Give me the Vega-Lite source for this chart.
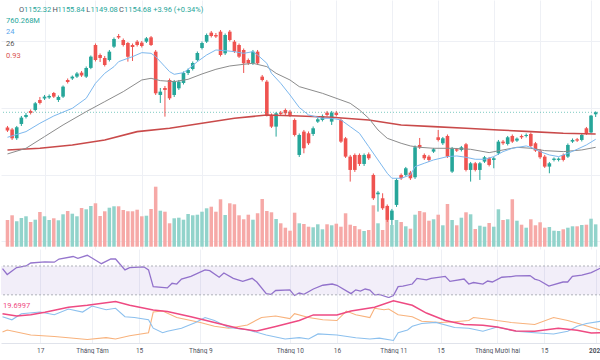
{
  "$schema": "https://vega.github.io/schema/vega-lite/v6.json",
  "padding": 0,
  "spacing": 0,
  "bounds": "flush",
  "background": "white",
  "config": {
    "view": {"stroke": null},
    "font": "Roboto",
    "axis": {"gridColor": "#eef0f5", "gridWidth": 1}
  },
  "datasets": {
    "candles": [
      {"i":0,"o":1136.3,"h":1138.3,"l":1131.1,"c":1132.9,"v":908},
      {"i":1,"o":1134.1,"h":1135.9,"l":1121.5,"c":1123.5,"v":1068},
      {"i":2,"o":1123.5,"h":1138.3,"l":1121.5,"c":1136.7,"v":864},
      {"i":3,"o":1140.7,"h":1150.3,"l":1138.3,"c":1148.3,"v":976},
      {"i":4,"o":1149.1,"h":1153.9,"l":1147.3,"c":1151.5,"v":1034},
      {"i":5,"o":1156.3,"h":1158.1,"l":1152.1,"c":1153.9,"v":840},
      {"i":6,"o":1157.5,"h":1167.1,"l":1155.7,"c":1165.5,"v":918},
      {"i":7,"o":1169.5,"h":1173.1,"l":1164.1,"c":1165.9,"v":1180},
      {"i":8,"o":1171.3,"h":1175.5,"l":1169.5,"c":1173.5,"v":1034},
      {"i":9,"o":1172.5,"h":1176.1,"l":1170.7,"c":1174.3,"v":908},
      {"i":10,"o":1177.9,"h":1179.1,"l":1171.9,"c":1173.5,"v":966},
      {"i":11,"o":1169.5,"h":1174.9,"l":1167.1,"c":1173.1,"v":898},
      {"i":12,"o":1173.5,"h":1186.9,"l":1171.9,"c":1185.5,"v":1102},
      {"i":13,"o":1193.5,"h":1195.3,"l":1189.3,"c":1191.1,"v":1214},
      {"i":14,"o":1195.3,"h":1198.9,"l":1193.5,"c":1197.5,"v":1122},
      {"i":15,"o":1197.5,"h":1203.1,"l":1195.9,"c":1201.3,"v":1034},
      {"i":16,"o":1202.3,"h":1204.3,"l":1197.1,"c":1198.9,"v":1316},
      {"i":17,"o":1197.5,"h":1209.7,"l":1195.9,"c":1207.9,"v":1272},
      {"i":18,"o":1208.0,"h":1222.9,"l":1206.5,"c":1221.5,"v":1384},
      {"i":19,"o":1235.5,"h":1237.3,"l":1215.7,"c":1217.5,"v":1476},
      {"i":20,"o":1223.5,"h":1225.3,"l":1215.1,"c":1219.9,"v":1044},
      {"i":21,"o":1219.9,"h":1222.3,"l":1209.7,"c":1211.5,"v":1204},
      {"i":22,"o":1217.5,"h":1229.5,"l":1215.7,"c":1227.5,"v":1326},
      {"i":23,"o":1233.5,"h":1244.5,"l":1231.9,"c":1242.7,"v":1374},
      {"i":24,"o":1246.3,"h":1248.7,"l":1242.7,"c":1244.5,"v":1374},
      {"i":25,"o":1241.5,"h":1243.3,"l":1233.7,"c":1235.5,"v":1248},
      {"i":26,"o":1237.9,"h":1239.1,"l":1215.5,"c":1221.5,"v":1204},
      {"i":27,"o":1235.5,"h":1237.3,"l":1216.3,"c":1233.1,"v":1204},
      {"i":28,"o":1239.5,"h":1241.5,"l":1233.7,"c":1235.5,"v":1258},
      {"i":29,"o":1238.3,"h":1240.3,"l":1232.5,"c":1234.3,"v":1034},
      {"i":30,"o":1239.5,"h":1245.1,"l":1237.9,"c":1243.5,"v":1054},
      {"i":31,"o":1244.7,"h":1246.3,"l":1234.3,"c":1235.5,"v":1282},
      {"i":32,"o":1227.5,"h":1229.5,"l":1175.5,"c":1177.5,"v":2040},
      {"i":33,"o":1175.5,"h":1183.9,"l":1165.9,"c":1179.5,"v":1224},
      {"i":34,"o":1183.9,"h":1186.3,"l":1149.5,"c":1181.5,"v":1190},
      {"i":35,"o":1193.5,"h":1195.3,"l":1169.5,"c":1171.5,"v":796},
      {"i":36,"o":1175.5,"h":1193.5,"l":1173.1,"c":1191.5,"v":966},
      {"i":37,"o":1183.5,"h":1193.5,"l":1181.5,"c":1191.5,"v":986},
      {"i":38,"o":1189.9,"h":1203.7,"l":1188.1,"c":1201.9,"v":918},
      {"i":39,"o":1201.9,"h":1207.3,"l":1199.5,"c":1205.5,"v":1112},
      {"i":40,"o":1206.7,"h":1215.7,"l":1204.9,"c":1213.9,"v":1068},
      {"i":41,"o":1217.5,"h":1227.7,"l":1215.7,"c":1225.9,"v":1088},
      {"i":42,"o":1231.9,"h":1239.7,"l":1230.1,"c":1237.9,"v":1190},
      {"i":43,"o":1239.5,"h":1249.3,"l":1237.9,"c":1247.5,"v":1306},
      {"i":44,"o":1250.3,"h":1252.3,"l":1244.5,"c":1246.3,"v":1360},
      {"i":45,"o":1247.5,"h":1249.9,"l":1243.9,"c":1245.7,"v":1190},
      {"i":46,"o":1251.5,"h":1253.5,"l":1221.7,"c":1223.5,"v":1612},
      {"i":47,"o":1225.5,"h":1249.3,"l":1223.5,"c":1247.5,"v":1078},
      {"i":48,"o":1251.5,"h":1253.5,"l":1239.7,"c":1241.5,"v":1476},
      {"i":49,"o":1239.5,"h":1241.5,"l":1225.9,"c":1227.5,"v":1442},
      {"i":50,"o":1235.5,"h":1237.3,"l":1219.9,"c":1221.5,"v":1068},
      {"i":51,"o":1229.5,"h":1231.3,"l":1201.9,"c":1213.5,"v":932},
      {"i":52,"o":1217.5,"h":1219.3,"l":1211.5,"c":1213.5,"v":1088},
      {"i":53,"o":1213.5,"h":1229.5,"l":1211.5,"c":1227.5,"v":918},
      {"i":54,"o":1227.5,"h":1229.5,"l":1211.5,"c":1213.5,"v":1136},
      {"i":55,"o":1197.5,"h":1199.5,"l":1191.7,"c":1193.5,"v":1622},
      {"i":56,"o":1191.5,"h":1193.5,"l":1149.7,"c":1151.5,"v":1214},
      {"i":57,"o":1151.5,"h":1153.3,"l":1135.9,"c":1137.5,"v":1170},
      {"i":58,"o":1137.5,"h":1155.1,"l":1125.5,"c":1153.5,"v":942},
      {"i":59,"o":1154.3,"h":1156.3,"l":1150.3,"c":1152.7,"v":796},
      {"i":60,"o":1157.5,"h":1159.3,"l":1151.5,"c":1153.5,"v":646},
      {"i":61,"o":1155.5,"h":1157.5,"l":1149.1,"c":1151.5,"v":544},
      {"i":62,"o":1145.5,"h":1147.3,"l":1125.7,"c":1127.5,"v":1156},
      {"i":63,"o":1103.5,"h":1129.3,"l":1101.1,"c":1127.5,"v":796},
      {"i":64,"o":1131.5,"h":1133.5,"l":1105.5,"c":1111.5,"v":772},
      {"i":65,"o":1129.5,"h":1131.7,"l":1115.5,"c":1117.5,"v":680},
      {"i":66,"o":1128.7,"h":1137.7,"l":1126.3,"c":1135.5,"v":660},
      {"i":67,"o":1143.5,"h":1147.9,"l":1141.9,"c":1146.3,"v":762},
      {"i":68,"o":1145.5,"h":1152.1,"l":1143.7,"c":1150.3,"v":592},
      {"i":69,"o":1154.3,"h":1156.3,"l":1149.7,"c":1151.5,"v":762},
      {"i":70,"o":1143.5,"h":1156.3,"l":1139.5,"c":1154.3,"v":728},
      {"i":71,"o":1154.3,"h":1156.3,"l":1149.7,"c":1151.5,"v":782},
      {"i":72,"o":1145.5,"h":1147.3,"l":1117.9,"c":1119.5,"v":680},
      {"i":73,"o":1123.5,"h":1125.1,"l":1099.9,"c":1101.5,"v":1136},
      {"i":74,"o":1101.5,"h":1103.5,"l":1071.5,"c":1085.5,"v":748},
      {"i":75,"o":1103.5,"h":1105.3,"l":1083.1,"c":1085.5,"v":704},
      {"i":76,"o":1103.5,"h":1105.3,"l":1090.3,"c":1092.7,"v":592},
      {"i":77,"o":1092.7,"h":1105.3,"l":1090.3,"c":1103.5,"v":534},
      {"i":78,"o":1104.3,"h":1106.5,"l":1097.5,"c":1099.5,"v":568},
      {"i":79,"o":1079.5,"h":1081.3,"l":1049.5,"c":1051.5,"v":1408},
      {"i":80,"o":1056.3,"h":1060.3,"l":1035.5,"c":1058.3,"v":796},
      {"i":81,"o":1051.5,"h":1057.5,"l":1037.5,"c":1039.5,"v":568},
      {"i":82,"o":1042.3,"h":1044.1,"l":1023.1,"c":1025.5,"v":908},
      {"i":83,"o":1025.5,"h":1038.7,"l":1019.5,"c":1036.7,"v":738},
      {"i":84,"o":1043.5,"h":1075.3,"l":1041.1,"c":1073.5,"v":908},
      {"i":85,"o":1079.5,"h":1081.3,"l":1073.5,"c":1075.5,"v":840},
      {"i":86,"o":1079.5,"h":1089.1,"l":1077.7,"c":1087.5,"v":694},
      {"i":87,"o":1082.3,"h":1084.3,"l":1073.5,"c":1075.5,"v":612},
      {"i":88,"o":1076.7,"h":1114.9,"l":1074.7,"c":1112.7,"v":1088},
      {"i":89,"o":1115.5,"h":1123.9,"l":1110.7,"c":1112.7,"v":1214},
      {"i":90,"o":1103.5,"h":1105.3,"l":1097.5,"c":1099.5,"v":1170},
      {"i":91,"o":1101.5,"h":1103.5,"l":1095.1,"c":1097.5,"v":884},
      {"i":92,"o":1107.5,"h":1111.9,"l":1105.9,"c":1110.3,"v":932},
      {"i":93,"o":1124.7,"h":1133.5,"l":1119.7,"c":1121.5,"v":1088},
      {"i":94,"o":1117.5,"h":1125.1,"l":1115.5,"c":1123.5,"v":728},
      {"i":95,"o":1126.3,"h":1128.1,"l":1099.9,"c":1101.5,"v":1452},
      {"i":96,"o":1083.5,"h":1113.1,"l":1081.9,"c":1111.5,"v":908},
      {"i":97,"o":1110.3,"h":1111.9,"l":1107.1,"c":1108.7,"v":728},
      {"i":98,"o":1109.5,"h":1114.3,"l":1107.7,"c":1112.7,"v":986},
      {"i":99,"o":1116.3,"h":1117.9,"l":1083.7,"c":1085.5,"v":1170},
      {"i":100,"o":1085.5,"h":1095.1,"l":1071.5,"c":1093.5,"v":1102},
      {"i":101,"o":1093.5,"h":1095.1,"l":1083.7,"c":1085.5,"v":602},
      {"i":102,"o":1085.5,"h":1095.1,"l":1073.5,"c":1093.5,"v":714},
      {"i":103,"o":1095.5,"h":1102.3,"l":1093.9,"c":1100.7,"v":680},
      {"i":104,"o":1099.5,"h":1101.1,"l":1089.7,"c":1091.5,"v":806},
      {"i":105,"o":1097.5,"h":1101.1,"l":1087.5,"c":1099.5,"v":680},
      {"i":106,"o":1105.5,"h":1121.5,"l":1103.5,"c":1119.5,"v":1272},
      {"i":107,"o":1119.5,"h":1121.5,"l":1115.5,"c":1117.5,"v":908},
      {"i":108,"o":1116.7,"h":1126.3,"l":1114.9,"c":1124.7,"v":932},
      {"i":109,"o":1126.3,"h":1128.1,"l":1117.9,"c":1119.5,"v":1612},
      {"i":110,"o":1120.7,"h":1124.5,"l":1119.1,"c":1123.1,"v":884},
      {"i":111,"o":1126.3,"h":1128.1,"l":1122.7,"c":1124.7,"v":748},
      {"i":112,"o":1126.3,"h":1129.3,"l":1124.5,"c":1127.5,"v":646},
      {"i":113,"o":1128.7,"h":1130.5,"l":1112.5,"c":1114.3,"v":932},
      {"i":114,"o":1117.5,"h":1119.1,"l":1107.1,"c":1108.7,"v":728},
      {"i":115,"o":1108.7,"h":1110.7,"l":1098.7,"c":1100.7,"v":830},
      {"i":116,"o":1101.5,"h":1103.5,"l":1087.9,"c":1089.5,"v":646},
      {"i":117,"o":1089.5,"h":1095.1,"l":1081.5,"c":1093.5,"v":670},
      {"i":118,"o":1097.5,"h":1100.5,"l":1095.7,"c":1099.1,"v":544},
      {"i":119,"o":1097.5,"h":1100.5,"l":1095.7,"c":1099.1,"v":534},
      {"i":120,"o":1103.5,"h":1105.3,"l":1095.7,"c":1097.5,"v":592},
      {"i":121,"o":1101.5,"h":1117.3,"l":1099.9,"c":1115.5,"v":646},
      {"i":122,"o":1119.5,"h":1123.3,"l":1117.9,"c":1121.5,"v":694},
      {"i":123,"o":1122.3,"h":1123.9,"l":1119.1,"c":1120.7,"v":694},
      {"i":124,"o":1121.5,"h":1129.3,"l":1119.7,"c":1127.5,"v":738},
      {"i":125,"o":1135.5,"h":1137.1,"l":1127.5,"c":1129.5,"v":748},
      {"i":126,"o":1130.5,"h":1151.5,"l":1129.5,"c":1150.7,"v":952},
      {"i":127,"o":1152.32,"h":1155.84,"l":1149.08,"c":1154.68,"v":760.268}
    ],
    "ma1": [
      {"i":0,"p":1124.7},{"i":4,"p":1131.5},{"i":7,"p":1141.5},{"i":10,"p":1150.3},{"i":14,"p":1159.5},{"i":17,"p":1171.5},{"i":19,"p":1189.5},{"i":21,"p":1201.5},{"i":23,"p":1209.5},{"i":24,"p":1215.5},{"i":27,"p":1221.5},{"i":29,"p":1226.3},{"i":31,"p":1225.5},{"i":32,"p":1221.5},{"i":34,"p":1209.5},{"i":35,"p":1203.5},{"i":36,"p":1200.3},{"i":38,"p":1202.3},{"i":39,"p":1206.3},{"i":41,"p":1215.5},{"i":43,"p":1223.5},{"i":45,"p":1229.5},{"i":47,"p":1228.7},{"i":49,"p":1227.5},{"i":51,"p":1225.5},{"i":53,"p":1227.5},{"i":54,"p":1223.5},{"i":56,"p":1213.5},{"i":57,"p":1201.5},{"i":59,"p":1189.5},{"i":61,"p":1175.5},{"i":63,"p":1160.5},{"i":65,"p":1151.5},{"i":68,"p":1147.5},{"i":70,"p":1147.5},{"i":72,"p":1145.5},{"i":74,"p":1137.5},{"i":76,"p":1129.5},{"i":78,"p":1113.5},{"i":80,"p":1097.5},{"i":82,"p":1081.5},{"i":83,"p":1075.5},{"i":85,"p":1075.5},{"i":87,"p":1079.5},{"i":88,"p":1089.5},{"i":90,"p":1093.5},{"i":92,"p":1097.5},{"i":95,"p":1101.5},{"i":97,"p":1102.3},{"i":99,"p":1100.7},{"i":101,"p":1098.3},{"i":103,"p":1098.3},{"i":105,"p":1101.5},{"i":107,"p":1107.5},{"i":109,"p":1111.5},{"i":112,"p":1114.3},{"i":113,"p":1112.7},{"i":115,"p":1107.5},{"i":117,"p":1103.5},{"i":119,"p":1101.5},{"i":121,"p":1105.5},{"i":123,"p":1110.3},{"i":125,"p":1115.5},{"i":127,"p":1122.3}
    ],
    "ma2": [
      {"i":0,"p":1104.7},{"i":4,"p":1111.5},{"i":8,"p":1125.5},{"i":12,"p":1139.5},{"i":17,"p":1155.5},{"i":21,"p":1167.5},{"i":25,"p":1179.5},{"i":29,"p":1193.5},{"i":31,"p":1195.5},{"i":33,"p":1192.7},{"i":36,"p":1191.5},{"i":39,"p":1194.3},{"i":42,"p":1200.7},{"i":45,"p":1206.3},{"i":48,"p":1210.3},{"i":51,"p":1212.3},{"i":53,"p":1213.5},{"i":56,"p":1209.5},{"i":58,"p":1201.5},{"i":61,"p":1193.5},{"i":63,"p":1185.5},{"i":68,"p":1177.5},{"i":72,"p":1169.5},{"i":74,"p":1165.5},{"i":76,"p":1157.5},{"i":78,"p":1147.5},{"i":80,"p":1133.5},{"i":82,"p":1123.5},{"i":85,"p":1117.5},{"i":87,"p":1114.3},{"i":89,"p":1112.7},{"i":92,"p":1111.5},{"i":96,"p":1111.5},{"i":100,"p":1110.3},{"i":104,"p":1106.3},{"i":107,"p":1109.5},{"i":110,"p":1112.7},{"i":113,"p":1111.5},{"i":116,"p":1108.7},{"i":120,"p":1107.5},{"i":124,"p":1109.5},{"i":127,"p":1112.7}
    ],
    "ma3": [
      {"i":0,"p":1109.5},{"i":7,"p":1111.5},{"i":14,"p":1115.5},{"i":21,"p":1121.5},{"i":28,"p":1131.5},{"i":35,"p":1135.5},{"i":42,"p":1141.5},{"i":49,"p":1147.5},{"i":56,"p":1151.5},{"i":63,"p":1150.3},{"i":70,"p":1148.7},{"i":78,"p":1145.5},{"i":85,"p":1139.5},{"i":92,"p":1137.5},{"i":99,"p":1135.5},{"i":106,"p":1133.5},{"i":113,"p":1131.5},{"i":120,"p":1129.5},{"i":127,"p":1128.7}
    ],
    "rsi": [
      {"i":0,"r":66.3},{"i":1,"r":58.2},{"i":3,"r":67.8},{"i":5,"r":70},{"i":6,"r":74.2},{"i":9,"r":75.8},{"i":11,"r":75.3},{"i":12,"r":79.7},{"i":15,"r":83.2},{"i":16,"r":80.6},{"i":18,"r":84.9},{"i":19,"r":81.1},{"i":21,"r":73.2},{"i":23,"r":79.7},{"i":24,"r":79.7},{"i":26,"r":64.6},{"i":27,"r":67.8},{"i":30,"r":68.9},{"i":31,"r":64.6},{"i":32,"r":41.3},{"i":35,"r":39.6},{"i":36,"r":46},{"i":37,"r":45},{"i":38,"r":51.9},{"i":40,"r":55.6},{"i":43,"r":64.6},{"i":44,"r":63.6},{"i":46,"r":54.4},{"i":47,"r":60.3},{"i":49,"r":52.9},{"i":51,"r":48.6},{"i":53,"r":52.9},{"i":54,"r":47.8},{"i":56,"r":31.7},{"i":57,"r":30.6},{"i":58,"r":36.0},{"i":61,"r":36.9},{"i":62,"r":29},{"i":63,"r":32.5},{"i":64,"r":30.6},{"i":66,"r":38.1},{"i":68,"r":43.3},{"i":70,"r":45},{"i":71,"r":43.3},{"i":74,"r":31.7},{"i":75,"r":36.9},{"i":76,"r":35.3},{"i":77,"r":38.1},{"i":78,"r":36.7},{"i":79,"r":30},{"i":80,"r":30.6},{"i":82,"r":26.3},{"i":83,"r":29},{"i":84,"r":41.3},{"i":85,"r":42.2},{"i":87,"r":45},{"i":88,"r":52.9},{"i":90,"r":50.8},{"i":91,"r":52.9},{"i":94,"r":55.6},{"i":95,"r":48.6},{"i":98,"r":51.9},{"i":99,"r":45},{"i":100,"r":47.1},{"i":102,"r":45},{"i":103,"r":49.2},{"i":104,"r":47.8},{"i":106,"r":54.4},{"i":108,"r":55.4},{"i":109,"r":56.4},{"i":112,"r":56.7},{"i":113,"r":51.9},{"i":114,"r":49.9},{"i":116,"r":42.2},{"i":119,"r":47.8},{"i":120,"r":47.8},{"i":121,"r":55.6},{"i":123,"r":57.2},{"i":125,"r":60.8},{"i":127,"r":67.2}
    ],
    "adx": [
      {"i":0,"d":35.0},{"i":3,"d":33.1},{"i":6,"d":34.1},{"i":9,"d":36.2},{"i":14,"d":40.2},{"i":18,"d":41.7},{"i":24,"d":44.7},{"i":27,"d":41.7},{"i":32,"d":38.0},{"i":35,"d":36.8},{"i":40,"d":32.5},{"i":45,"d":27.9},{"i":50,"d":23.3},{"i":54,"d":21.1},{"i":58,"d":24.8},{"i":63,"d":29.5},{"i":66,"d":34.0},{"i":71,"d":34.0},{"i":74,"d":37.1},{"i":79,"d":40.2},{"i":83,"d":45.4},{"i":87,"d":41.7},{"i":90,"d":35.5},{"i":94,"d":29.5},{"i":98,"d":26.4},{"i":102,"d":25.8},{"i":105,"d":24.3},{"i":109,"d":21.1},{"i":113,"d":20.9},{"i":118,"d":23.3},{"i":122,"d":21.8},{"i":125,"d":19.6},{"i":127,"d":19.7}
    ],
    "pdi": [
      {"i":0,"d":32.6},{"i":2,"d":30.1},{"i":4,"d":35.0},{"i":8,"d":36.3},{"i":11,"d":34.1},{"i":14,"d":38.7},{"i":17,"d":36.3},{"i":19,"d":41.1},{"i":22,"d":38.1},{"i":24,"d":39.3},{"i":26,"d":32.6},{"i":28,"d":32.0},{"i":31,"d":30.1},{"i":32,"d":23.4},{"i":34,"d":19.8},{"i":35,"d":21.0},{"i":38,"d":23.4},{"i":41,"d":28.0},{"i":43,"d":31.9},{"i":45,"d":29.5},{"i":48,"d":24.0},{"i":52,"d":22.2},{"i":56,"d":17.9},{"i":60,"d":14.8},{"i":63,"d":15.8},{"i":65,"d":14.8},{"i":67,"d":18.8},{"i":71,"d":17.9},{"i":75,"d":15.8},{"i":78,"d":14.8},{"i":80,"d":15.4},{"i":83,"d":13.6},{"i":84,"d":19.8},{"i":86,"d":21.9},{"i":87,"d":24.9},{"i":89,"d":27.1},{"i":92,"d":28.0},{"i":96,"d":24.0},{"i":99,"d":23.4},{"i":102,"d":21.0},{"i":105,"d":24.3},{"i":109,"d":21.0},{"i":113,"d":19.8},{"i":117,"d":18.8},{"i":120,"d":21.0},{"i":122,"d":24.9},{"i":124,"d":27.1},{"i":127,"d":28.9}
    ],
    "mdi": [
      {"i":0,"d":20.3},{"i":1,"d":21.9},{"i":6,"d":17.9},{"i":11,"d":16.7},{"i":14,"d":15.8},{"i":18,"d":14.3},{"i":22,"d":15.8},{"i":24,"d":14.8},{"i":27,"d":17.3},{"i":31,"d":19.8},{"i":32,"d":36.3},{"i":34,"d":37.1},{"i":37,"d":31.9},{"i":42,"d":28.0},{"i":45,"d":24.9},{"i":48,"d":23.4},{"i":52,"d":25.9},{"i":53,"d":28.0},{"i":55,"d":31.9},{"i":58,"d":33.1},{"i":61,"d":31.1},{"i":62,"d":35.0},{"i":65,"d":31.9},{"i":68,"d":30.1},{"i":71,"d":29.5},{"i":73,"d":37.1},{"i":75,"d":34.1},{"i":78,"d":31.9},{"i":79,"d":39.3},{"i":81,"d":38.1},{"i":82,"d":38.7},{"i":84,"d":34.1},{"i":87,"d":32.6},{"i":89,"d":28.9},{"i":93,"d":28.0},{"i":96,"d":28.6},{"i":99,"d":29.5},{"i":100,"d":31.9},{"i":104,"d":30.1},{"i":105,"d":29.5},{"i":108,"d":28.0},{"i":113,"d":26.4},{"i":117,"d":31.9},{"i":120,"d":29.5},{"i":123,"d":26.4},{"i":127,"d":21.9}
    ]
  },
  "vconcat": [
    {
      "width": 600,
      "height": 249,
      "resolve": {"scale": {"y": "independent"}},
      "layer": [
        {
          "data": {"name": "candles"},
          "mark": {"type": "bar", "size": 3.5, "clip": true},
          "encoding": {
            "x": {"field": "i", "type": "quantitative", "scale": {"domain": [-0.318, 127.07], "nice": false, "zero": false},
                  "axis": {"values": [8,19,29,42,61,71,83,93,105,115,126], "labels": false, "ticks": false, "domain": false, "grid": true, "title": null}},
            "y": {"field": "v", "type": "quantitative", "scale": {"domain": [-78.2, 8387.8], "nice": false, "zero": false}, "axis": null},
            "color": {"condition": {"test": "datum.c >= datum.o", "value": "#92d3cb"}, "value": "#f6a9a7"}
          }
        },
        {
          "layer": [
            {
              "data": {"name": "candles"},
              "mark": {"type": "rule", "strokeWidth": 1, "clip": true},
              "encoding": {
                "x": {"field": "i", "type": "quantitative"},
                "y": {"field": "l", "type": "quantitative", "scale": {"domain": [990.6, 1289.5], "nice": false, "zero": false},
                      "axis": {"values": [1000,1020,1040,1060,1080,1100,1120,1140,1160,1180,1200,1220,1240,1260,1280], "labels": false, "ticks": false, "domain": false, "grid": true, "title": null}},
                "y2": {"field": "h"},
                "color": {"condition": {"test": "datum.c >= datum.o", "value": "#26a69a"}, "value": "#ef5350"}
              }
            },
            {
              "data": {"name": "candles"},
              "mark": {"type": "bar", "size": 3.6, "clip": true},
              "encoding": {
                "x": {"field": "i", "type": "quantitative"},
                "y": {"field": "o", "type": "quantitative"},
                "y2": {"field": "c"},
                "color": {"condition": {"test": "datum.c >= datum.o", "value": "#26a69a"}, "value": "#ef5350"}
              }
            },
            {
              "data": {"values": [{}]},
              "mark": {"type": "rule", "color": "#26a69a", "strokeDash": [1, 2], "opacity": 0.6},
              "encoding": {"y": {"datum": 1154.68}}
            },
            {
              "data": {"name": "ma3"},
              "mark": {"type": "line", "color": "#c94a4a", "strokeWidth": 1.6, "clip": true},
              "encoding": {"x": {"field": "i", "type": "quantitative"}, "y": {"field": "p", "type": "quantitative"}}
            },
            {
              "data": {"name": "ma2"},
              "mark": {"type": "line", "color": "#8c8c8c", "strokeWidth": 1, "clip": true},
              "encoding": {"x": {"field": "i", "type": "quantitative"}, "y": {"field": "p", "type": "quantitative"}}
            },
            {
              "data": {"name": "ma1"},
              "mark": {"type": "line", "color": "#7db8ee", "strokeWidth": 1, "clip": true},
              "encoding": {"x": {"field": "i", "type": "quantitative"}, "y": {"field": "p", "type": "quantitative"}}
            },
            {"data": {"values": [{}]}, "mark": {"type": "text", "text": "O", "align": "left", "baseline": "middle", "fontSize": 7.5, "color": "#50535e"}, "encoding": {"x": {"datum": 2.51}, "y": {"datum": 1277.5}}},
            {"data": {"values": [{}]}, "mark": {"type": "text", "text": "1152.32", "align": "left", "baseline": "middle", "fontSize": 7.5, "color": "#26a69a"}, "encoding": {"x": {"datum": 3.57}, "y": {"datum": 1277.5}}},
            {"data": {"values": [{}]}, "mark": {"type": "text", "text": "H", "align": "left", "baseline": "middle", "fontSize": 7.5, "color": "#50535e"}, "encoding": {"x": {"datum": 9.72}, "y": {"datum": 1277.5}}},
            {"data": {"values": [{}]}, "mark": {"type": "text", "text": "1155.84", "align": "left", "baseline": "middle", "fontSize": 7.5, "color": "#26a69a"}, "encoding": {"x": {"datum": 10.79}, "y": {"datum": 1277.5}}},
            {"data": {"values": [{}]}, "mark": {"type": "text", "text": "L", "align": "left", "baseline": "middle", "fontSize": 7.5, "color": "#50535e"}, "encoding": {"x": {"datum": 17.03}, "y": {"datum": 1277.5}}},
            {"data": {"values": [{}]}, "mark": {"type": "text", "text": "1149.08", "align": "left", "baseline": "middle", "fontSize": 7.5, "color": "#26a69a"}, "encoding": {"x": {"datum": 17.94}, "y": {"datum": 1277.5}}},
            {"data": {"values": [{}]}, "mark": {"type": "text", "text": "C", "align": "left", "baseline": "middle", "fontSize": 7.5, "color": "#50535e"}, "encoding": {"x": {"datum": 24.1}, "y": {"datum": 1277.5}}},
            {"data": {"values": [{}]}, "mark": {"type": "text", "text": "1154.68 +3.96 (+0.34%)", "align": "left", "baseline": "middle", "fontSize": 7.5, "color": "#26a69a"}, "encoding": {"x": {"datum": 25.16}, "y": {"datum": 1277.5}}},
            {"data": {"values": [{}]}, "mark": {"type": "text", "text": "760.268M", "align": "left", "baseline": "middle", "fontSize": 7.5, "color": "#26a69a"}, "encoding": {"x": {"datum": -0.3}, "y": {"datum": 1264.3}}},
            {"data": {"values": [{}]}, "mark": {"type": "text", "text": "24", "align": "left", "baseline": "middle", "fontSize": 7.5, "color": "#5aa7ec"}, "encoding": {"x": {"datum": -0.3}, "y": {"datum": 1250.7}}},
            {"data": {"values": [{}]}, "mark": {"type": "text", "text": "26", "align": "left", "baseline": "middle", "fontSize": 7.5, "color": "#555555"}, "encoding": {"x": {"datum": -0.3}, "y": {"datum": 1236.7}}},
            {"data": {"values": [{}]}, "mark": {"type": "text", "text": "0.93", "align": "left", "baseline": "middle", "fontSize": 7.5, "color": "#d9534f"}, "encoding": {"x": {"datum": -0.3}, "y": {"datum": 1222.7}}}
          ]
        }
      ]
    },
    {
      "width": 600,
      "height": 49,
      "layer": [
        {
          "data": {"name": "rsi"},
          "mark": {"type": "line", "color": "#9575cd", "strokeWidth": 1.3, "clip": true},
          "encoding": {
            "x": {"field": "i", "type": "quantitative", "scale": {"domain": [-0.318, 127.07], "nice": false, "zero": false},
                  "axis": {"values": [8,19,29,42,61,71,83,93,105,115,126], "labels": false, "ticks": false, "domain": false, "grid": true, "title": null}},
            "y": {"field": "r", "type": "quantitative", "scale": {"domain": [25.6, 93.6], "nice": false, "zero": false}, "axis": null}
          }
        },
        {
          "data": {"values": [{}]},
          "mark": {"type": "rect", "color": "#7e57c2", "opacity": 0.1},
          "encoding": {"x": {"datum": -0.318}, "x2": {"datum": 127.07}, "y": {"datum": 30}, "y2": {"datum": 70}}
        },
        {
          "data": {"values": [{}]},
          "mark": {"type": "rule", "color": "#aeb1b8", "strokeDash": [2, 2], "strokeWidth": 1},
          "encoding": {"y": {"datum": 70}}
        },
        {
          "data": {"values": [{}]},
          "mark": {"type": "rule", "color": "#aeb1b8", "strokeDash": [2, 2], "strokeWidth": 1},
          "encoding": {"y": {"datum": 30}}
        }
      ]
    },
    {
      "width": 600,
      "height": 45,
      "layer": [
        {
          "data": {"name": "mdi"},
          "mark": {"type": "line", "color": "#f8b27c", "strokeWidth": 1.1, "clip": true},
          "encoding": {
            "x": {"field": "i", "type": "quantitative", "scale": {"domain": [-0.318, 127.07], "nice": false, "zero": false},
                  "axis": {"values": [8,19,29,42,61,71,83,93,105,115,126], "grid": true, "ticks": false, "domain": true, "domainColor": "#e0e3eb", "title": null,
                           "labelFontSize": 6.5, "labelColor": "#50535e", "labelPadding": 4, "labelOverlap": false, "labelFlush": false,
                           "labelFontWeight": {"condition": {"test": "datum.value == 126", "value": "bold"}, "value": "normal"},
                           "labelExpr": "datum.value == 8 ? '17' : datum.value == 19 ? 'Tháng Tám' : datum.value == 29 ? '15' : datum.value == 42 ? 'Tháng 9' : datum.value == 61 ? 'Tháng 10' : datum.value == 71 ? '16' : datum.value == 83 ? 'Tháng 11' : datum.value == 93 ? '15' : datum.value == 105 ? 'Tháng Mười hai' : datum.value == 115 ? '15' : '2024'"}},
            "y": {"field": "d", "type": "quantitative", "scale": {"domain": [11.54, 47.54], "nice": false, "zero": false}, "axis": null}
          }
        },
        {
          "data": {"name": "pdi"},
          "mark": {"type": "line", "color": "#8cc0ee", "strokeWidth": 1.1, "clip": true},
          "encoding": {"x": {"field": "i", "type": "quantitative"}, "y": {"field": "d", "type": "quantitative"}}
        },
        {
          "data": {"name": "adx"},
          "mark": {"type": "line", "color": "#ee4a82", "strokeWidth": 1.5, "clip": true},
          "encoding": {"x": {"field": "i", "type": "quantitative"}, "y": {"field": "d", "type": "quantitative"}}
        },
        {"data": {"values": [{}]}, "mark": {"type": "text", "text": "19.6997", "align": "left", "baseline": "middle", "fontSize": 7.5, "color": "#ee4a82"}, "encoding": {"x": {"datum": 0.1}, "y": {"datum": 41.1}}}
      ]
    }
  ]
}
